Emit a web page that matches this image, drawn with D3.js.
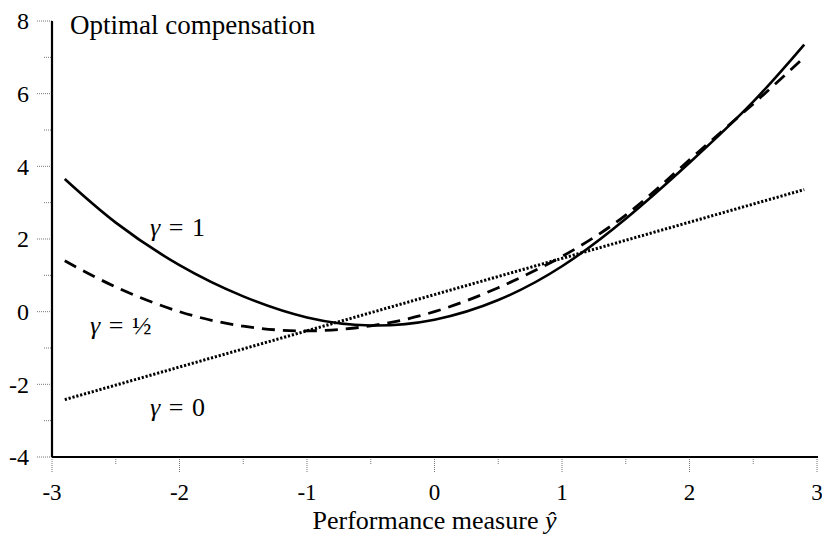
<!DOCTYPE html>
<html>
<head>
<meta charset="utf-8">
<script src="https://cdn.jsdelivr.net/npm/d3@7"></script>
<style>
  body { margin: 0; background: #fff; }
</style>
</head>
<body>
<svg id="chart" width="822" height="536"></svg>
<script>
// values
const xs = [-2.9, -2.5, -2, -1.5, -1, -0.5, 0, 0.5, 1, 1.5, 2, 2.5, 2.9];
const gamma1 = [3.65, 2.45, 1.28, 0.42, -0.16, -0.38, -0.22, 0.32, 1.25, 2.56, 4.1, 5.78, 7.35];
const gammaHalf = [1.4, 0.68, 0.0, -0.4, -0.53, -0.39, 0.0, 0.66, 1.52, 2.66, 4.18, 5.72, 7.0];
const gammaZeroX = [-2.9, 0, 2.9];
const gammaZero = [-2.42, 0.47, 3.36];

const xTicks = [-3, -2, -1, 0, 1, 2, 3];
const xMinor = [-2.5, -1.5, -0.5, 0.5, 1.5, 2.5];
const yTicks = [-4, -2, 0, 2, 4, 6, 8];
const yMinor = [-3, -1, 1, 3, 5, 7];

const FONT = "'Liberation Serif', 'DejaVu Serif', serif";

const margin = { top: 21, right: 5, bottom: 79, left: 52 };
const width = 822 - margin.left - margin.right;   // -3 -> 52, 3 -> 817
const height = 536 - margin.top - margin.bottom;  // 8 -> 21, -4 -> 457

const svg = d3.select('#chart');
const g = svg.append('g').attr('transform', `translate(${margin.left},${margin.top})`);

const x = d3.scaleLinear().domain([-3, 3]).range([0, width]);
const y = d3.scaleLinear().domain([-4, 8]).range([height, 0]);

// ticks (dotted grey, outside the axes)
const tickStyle = (sel) => sel.attr('stroke', '#777').attr('stroke-width', 1).attr('stroke-dasharray', '1,1');

g.selectAll('.ytick').data(yTicks).enter().append('line')
  .attr('x1', -15).attr('x2', 0)
  .attr('y1', d => y(d)).attr('y2', d => y(d))
  .call(tickStyle);
g.selectAll('.yminor').data(yMinor).enter().append('line')
  .attr('x1', -8).attr('x2', 0)
  .attr('y1', d => y(d)).attr('y2', d => y(d))
  .call(tickStyle);
g.selectAll('.xtick').data(xTicks).enter().append('line')
  .attr('x1', d => x(d)).attr('x2', d => x(d))
  .attr('y1', height).attr('y2', height + 15)
  .call(tickStyle);
g.selectAll('.xminor').data(xMinor).enter().append('line')
  .attr('x1', d => x(d)).attr('x2', d => x(d))
  .attr('y1', height).attr('y2', height + 8)
  .call(tickStyle);

// tick labels
g.selectAll('.ylab').data(yTicks).enter().append('text')
  .attr('x', -23).attr('y', d => y(d))
  .attr('dy', '0.35em')
  .attr('text-anchor', 'end')
  .attr('font-family', FONT)
  .attr('font-size', 24)
  .text(d => d);
g.selectAll('.xlab').data(xTicks).enter().append('text')
  .attr('x', d => x(d)).attr('y', height + 43)
  .attr('text-anchor', 'middle')
  .attr('font-family', FONT)
  .attr('font-size', 23)
  .text(d => d);

// axis lines
g.append('line').attr('x1', 0).attr('x2', 0).attr('y1', 0).attr('y2', height)
  .attr('stroke', '#000').attr('stroke-width', 2.2);
g.append('line').attr('x1', 0).attr('x2', width + 1).attr('y1', height).attr('y2', height)
  .attr('stroke', '#000').attr('stroke-width', 2.2);

// curves
const line = d3.line().x(d => x(d[0])).y(d => y(d[1])).curve(d3.curveNatural);

g.append('path')
  .datum(d3.zip(xs, gamma1))
  .attr('d', line)
  .attr('fill', 'none').attr('stroke', '#000').attr('stroke-width', 2.6);

g.append('path')
  .datum(d3.zip(xs, gammaHalf))
  .attr('d', line)
  .attr('fill', 'none').attr('stroke', '#000').attr('stroke-width', 2.8)
  .attr('stroke-dasharray', '13,8');

g.append('path')
  .datum(d3.zip(gammaZeroX, gammaZero))
  .attr('d', d3.line().x(d => x(d[0])).y(d => y(d[1])))
  .attr('fill', 'none').attr('stroke', '#000').attr('stroke-width', 3)
  .attr('stroke-dasharray', '2.2,1.8');

// curve labels
const labels = [
  { text: '1', lx: 150, ly: 236 },
  { text: '½', lx: 90, ly: 334 },
  { text: '0', lx: 150, ly: 416 }
];
labels.forEach((l) => {
  const t = svg.append('text').attr('x', l.lx).attr('y', l.ly)
    .attr('font-family', FONT).attr('font-size', 26);
  t.append('tspan').attr('font-style', 'italic').text('γ');
  t.append('tspan').attr('dx', 2).text(' = ');
  t.append('tspan').attr('dx', 2).text(l.text);
});

// title
svg.append('text')
  .attr('x', 70).attr('y', 34)
  .attr('font-family', FONT).attr('font-size', 27)
  .text('Optimal compensation');

// x axis title
const xt = svg.append('text')
  .attr('x', margin.left + x(0)).attr('y', 529)
  .attr('text-anchor', 'middle')
  .attr('font-family', FONT).attr('font-size', 26);
xt.append('tspan').text('Performance measure ');
xt.append('tspan').attr('font-style', 'italic').text('ŷ');
</script>
</body>
</html>
